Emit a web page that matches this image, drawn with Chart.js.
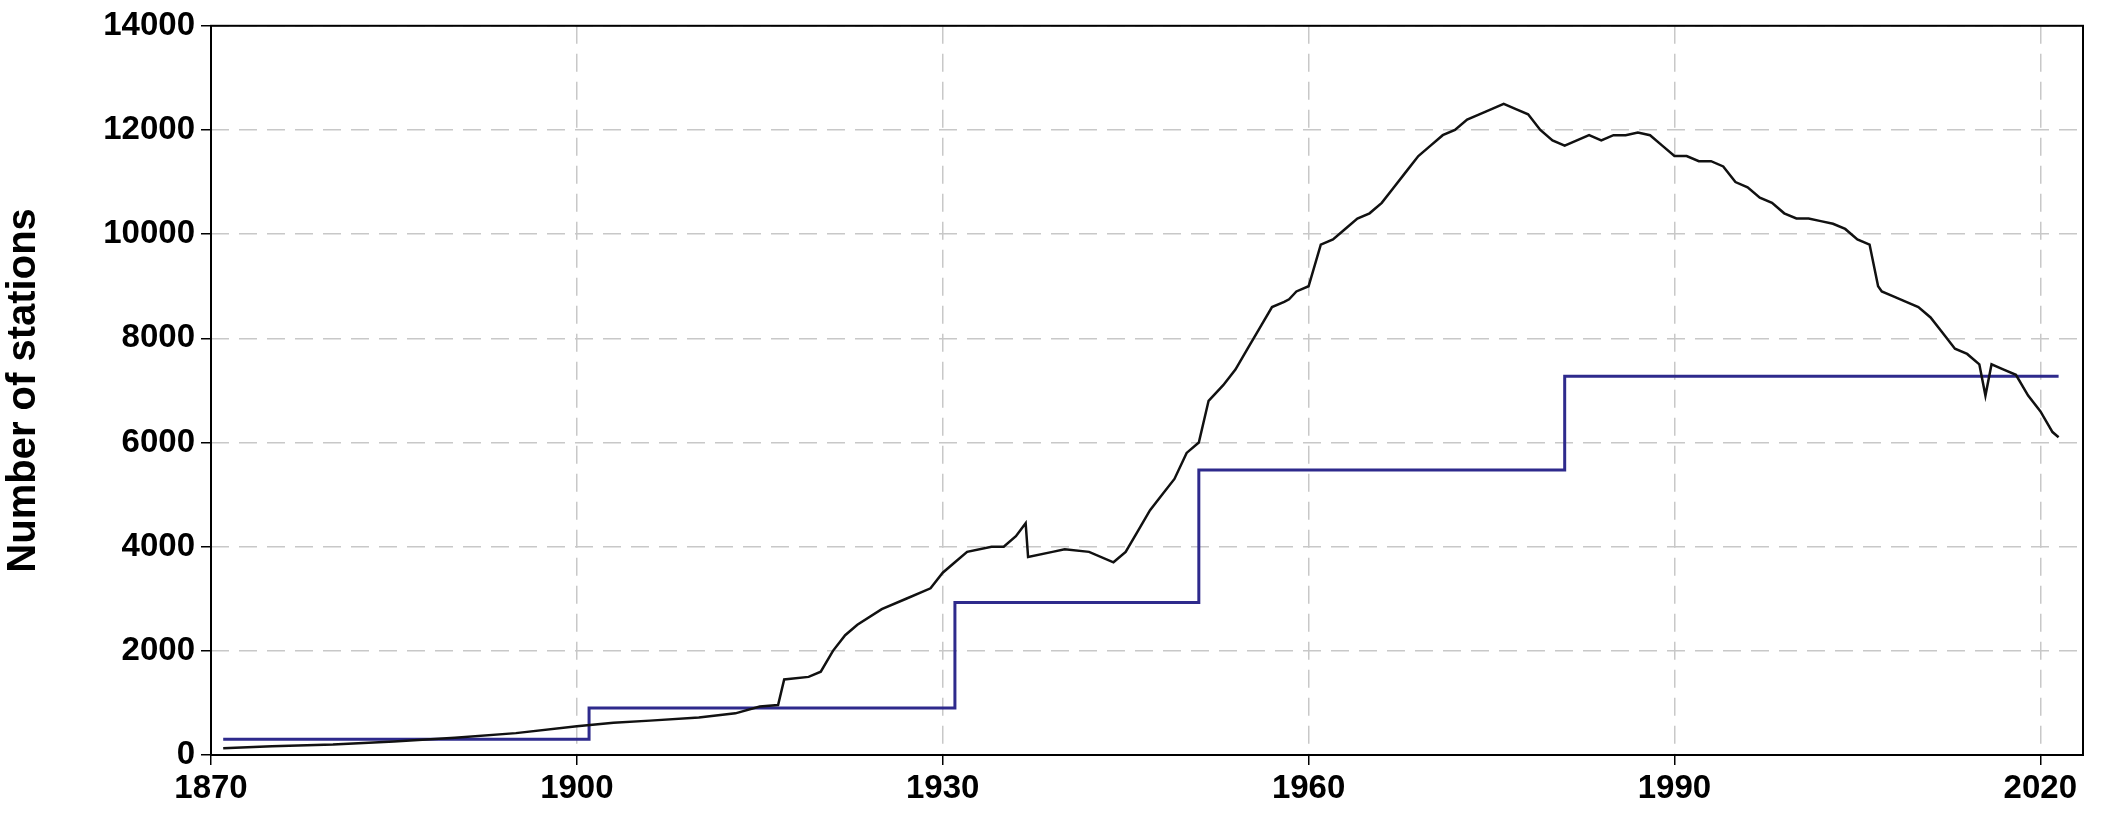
<!DOCTYPE html>
<html lang="en">
<head>
<meta charset="UTF-8" />
<title>Number of stations</title>
<script src="https://cdn.jsdelivr.net/npm/chart.js"></script>
<style>
  body { margin: 0; background: #fff; }
  #wrap { width: 2108px; height: 833px; }
</style>
</head>
<body>
<div id="wrap"><canvas id="chart"></canvas></div>
<script>
// Station counts (black line)
const years = [1871,1875,1880,1885,1890,1895,1900,1903,1906,1910,1913,1915,1916.5,1917,1919,1920,1921,1922,1923,1925,1927,1929,1930,1931,1932,1934,1935,1936,1936.8,1937,1939,1940,1942,1944,1945,1946,1947,1948,1949,1950,1951,1951.8,1953,1954,1955,1956,1957,1958,1958.4,1959,1960,1961,1962,1963,1964,1965,1966,1967,1968,1969,1970,1971,1972,1973,1974,1975,1976,1977,1978,1979,1980,1981,1982,1983,1984,1985,1986,1987,1988,1989,1990,1991,1992,1993,1994,1995,1996,1997,1998,1999,2000,2001,2002,2003,2004,2005,2006,2006.7,2007,2008,2009,2010,2011,2012,2013,2014,2015,2015.5,2016,2017,2018,2019,2020,2021,2021.5];
const stations = [130,170,200,260,330,420,550,620,660,720,800,930,960,1450,1500,1600,2000,2300,2500,2800,3000,3200,3500,3700,3900,4000,4000,4200,4450,3800,3900,3950,3900,3700,3900,4300,4700,5000,5300,5800,6000,6800,7100,7400,7800,8200,8600,8700,8750,8900,9000,9800,9900,10100,10300,10400,10600,10900,11200,11500,11700,11900,12000,12200,12300,12400,12500,12400,12300,12000,11800,11700,11800,11900,11800,11900,11900,11950,11900,11700,11500,11500,11400,11400,11300,11000,10900,10700,10600,10400,10300,10300,10250,10200,10100,9900,9800,9000,8900,8800,8700,8600,8400,8100,7800,7700,7500,6900,7500,7400,7300,6900,6600,6200,6100];

// Blue step series
const stepYears = [1871,1901,1931,1951,1981,2021.5];
const stepValues = [300,900,2930,5470,7270,7270];

const xTicks = [1870,1900,1930,1960,1990,2020];
const yTicks = [0,2000,4000,6000,8000,10000,12000,14000];

const frame = {
  id: 'frame',
  afterDatasetsDraw(chart) {
    const { ctx, chartArea: a } = chart;
    ctx.save();
    ctx.strokeStyle = '#000';
    ctx.lineWidth = 2;
    ctx.strokeRect(a.left, a.top, a.right - a.left, a.bottom - a.top);
    ctx.restore();
  }
};

const font = { family: 'Liberation Sans, Arial, sans-serif', size: 33, weight: 'bold' };

new Chart(document.getElementById('chart'), {
  type: 'line',
  data: {
    datasets: [
      {
        data: years.map((y, i) => ({ x: y, y: stations[i] })),
        borderColor: '#111',
        borderWidth: 2.5,
        pointRadius: 0,
        tension: 0
      },
      {
        data: stepYears.map((y, i) => ({ x: y, y: stepValues[i] })),
        borderColor: '#2e2a8c',
        borderWidth: 3,
        pointRadius: 0,
        stepped: 'before'
      }
    ]
  },
  options: {
    responsive: true,
    maintainAspectRatio: false,
    animation: false,
    layout: { padding: { top: 16, right: 25 } },
    plugins: { legend: { display: false }, tooltip: { enabled: false } },
    scales: {
      x: {
        type: 'linear',
        min: 1870,
        max: 2023.5,
        afterBuildTicks: (s) => { s.ticks = xTicks.map(v => ({ value: v })); },
        afterFit: (s) => { s.height = 78; },
        grid: { color: '#c8c8c8', lineWidth: 1.5, tickLength: 10, tickColor: '#000' },
        border: { display: false, dash: [18, 10] },
        ticks: { color: '#000', font, padding: 4, maxRotation: 0, callback: (v) => String(v) }
      },
      y: {
        min: 0,
        max: 14000,
        afterBuildTicks: (s) => { s.ticks = yTicks.map(v => ({ value: v })); },
        afterFit: (s) => { s.width = 211; },
        grid: { color: '#c8c8c8', lineWidth: 1.5, tickLength: 10, tickColor: '#000' },
        border: { display: false, dash: [18, 10] },
        title: { display: true, text: 'Number of stations', color: '#000', font: { family: font.family, size: 40, weight: 'bold' }, padding: 0 },
        ticks: { color: '#000', font, padding: 6, callback: (v) => String(v) }
      }
    }
  },
  plugins: [frame]
});
</script>
</body>
</html>
